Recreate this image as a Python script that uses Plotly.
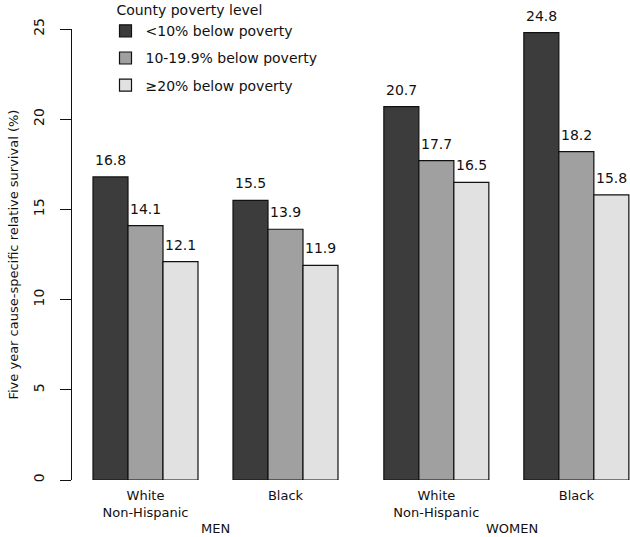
import plotly.graph_objects as go

# ---- data ----
groups = ["White<br>Non-Hispanic", "Black", "White<br>Non-Hispanic", "Black"]
sexes = ["MEN", "WOMEN"]
levels = ["<10% below poverty", "10-19.9% below poverty", "\u226520% below poverty"]
v_lt10 = [16.8, 15.5, 20.7, 24.8]
v_10_19 = [14.1, 13.9, 17.7, 18.2]
v_ge20 = [12.1, 11.9, 16.5, 15.8]
yticks = [0, 5, 10, 15, 20, 25]

series = [v_lt10, v_10_19, v_ge20]
colors = ["#3c3c3c", "#a0a0a0", "#e1e1e1"]

# layout helpers (group start positions in bar-width units)
starts = [0, 4, 8.31, 12.31]
FONT = "DejaVu Sans"

fig = go.Figure()
annotations = []
for k, (name, vals, col) in enumerate(zip(levels, series, colors)):
    xs = [s + k + 0.5 for s in starts]
    fig.add_trace(go.Bar(
        x=xs, y=vals, width=1, name=name, legendgroup=name,
        marker=dict(color=col, line=dict(color="#111111", width=1.2)),
        hoverinfo="skip",
    ))
    for x, v in zip(xs, vals):
        annotations.append(dict(x=x, y=v, xref="x", yref="y", text=f"{v:.1f}",
                                showarrow=False, yanchor="middle", yshift=17,
                                font=dict(family=FONT, size=14, color="#111111")))

centers = [s + 1.5 for s in starts]
sex_x = [(starts[0] + starts[1] + 3) / 2, (starts[2] + starts[3] + 3) / 2 + 0.15]
for sx, lab in zip(sex_x, sexes):
    annotations.append(dict(x=sx, y=-0.1086, xref="x", yref="paper", text=lab,
                            showarrow=False, yanchor="middle",
                            font=dict(family=FONT, size=13, color="#111111")))

annotations.append(dict(x=-0.1057, y=0.5, xref="paper", yref="paper",
                        text="Five year cause-specific relative survival (%)",
                        textangle=-90, showarrow=False, xanchor="center", yanchor="middle",
                        font=dict(family=FONT, size=13, color="#111111")))

fig.update_layout(
    width=630, height=537,
    margin=dict(l=72, r=0, t=29, b=57, autoexpand=False),
    paper_bgcolor="white", plot_bgcolor="white",
    barmode="overlay",
    font=dict(family=FONT, size=14, color="#111111"),
    annotations=annotations,
    showlegend=True,
    legend=dict(
        title=dict(text="\u00a0\u00a0County poverty level", font=dict(family=FONT, size=14)),
        x=(105.5 - 72) / 558, y=1 + 32 / 451, xanchor="left", yanchor="top",
        bgcolor="rgba(0,0,0,0)", borderwidth=0, itemwidth=30,
        font=dict(family=FONT, size=14), tracegroupgap=6,
    ),
)
fig.update_xaxes(range=[-0.6, 15.343], tickvals=centers, ticktext=groups,
                 showline=False, showgrid=False, zeroline=False, ticks="",
                 automargin=False,
                 tickfont=dict(family=FONT, size=13, color="#111111"),
                 ticklabelstandoff=6)
fig.update_yaxes(range=[0, 25], tickvals=yticks, showline=True, linecolor="#111111",
                 linewidth=1, ticks="outside", ticklen=11, tickcolor="#111111",
                 showgrid=False, zeroline=False, tickangle=-90, automargin=False,
                 tickfont=dict(family=FONT, size=14, color="#111111"),
                 ticklabelstandoff=10)

fig.write_html("out.html", config={"displayModeBar": False},
               post_script="document.body.style.margin='0';")
